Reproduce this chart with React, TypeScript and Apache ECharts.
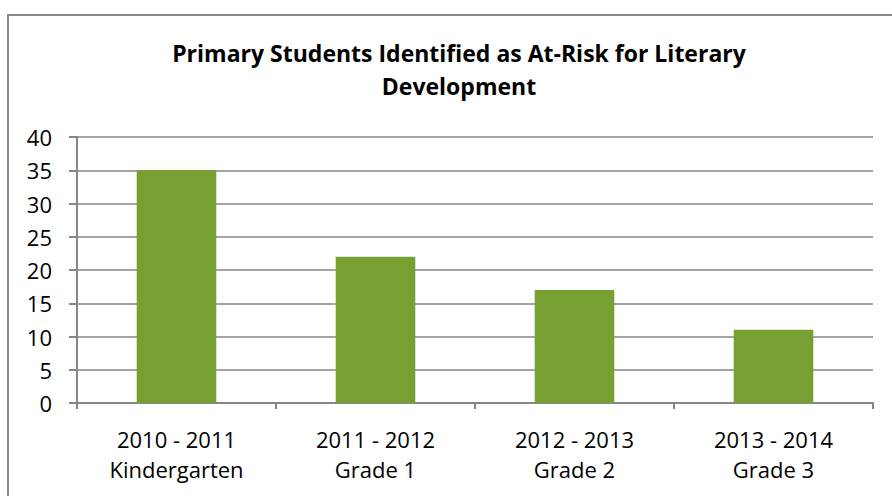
import React, { useEffect, useRef } from "react";
import * as echarts from "echarts";

const titleLines = ["Primary Students Identified as At-Risk for Literary", "Development"];
const yearLabels = ["2010 - 2011", "2011 - 2012", "2012 - 2013", "2013 - 2014"];
const gradeLabels = ["Kindergarten", "Grade 1", "Grade 2", "Grade 3"];
const studentCounts = [35, 22, 17, 11];
const yTicks = { min: 0, max: 40, interval: 5 };

const FONT = "'Open Sans', Lato, sans-serif";

export default function App() {
  const ref = useRef<HTMLDivElement>(null);
  useEffect(() => {
    if (!ref.current) return;
    const chart = echarts.init(ref.current, undefined, { renderer: "svg" });
    const categories = yearLabels.map((y, i) => `${y}\n${gradeLabels[i]}`);
    chart.setOption({
      animation: false,
      backgroundColor: "#ffffff",
      title: {
        text: titleLines.join("\n"),
        left: 454,
        top: 31,
        textAlign: "center",
        textStyle: {
          fontFamily: FONT,
          fontWeight: "bold",
          fontSize: 23,
          lineHeight: 33,
          color: "#000",
        },
      },
      graphic: [
        {
          type: "rect",
          shape: { x: 8, y: 15, width: 920, height: 600 },
          style: { fill: "none", stroke: "#878787", lineWidth: 2 },
          silent: true,
        },
      ],
      grid: { left: 77, right: 19, top: 137, bottom: 93 },
      xAxis: {
        type: "category",
        data: categories,
        axisLine: { show: true, lineStyle: { color: "#868686", width: 2 } },
        axisTick: { show: true, alignWithLabel: false, length: 6, lineStyle: { color: "#868686", width: 2 } },
        axisLabel: {
          fontFamily: FONT,
          fontSize: 22,
          lineHeight: 30,
          color: "#000",
          margin: 21,
          interval: 0,
        },
      },
      yAxis: {
        type: "value",
        min: yTicks.min,
        max: yTicks.max,
        interval: yTicks.interval,
        axisLine: { show: true, lineStyle: { color: "#868686", width: 2 } },
        axisTick: { show: true, length: 8, lineStyle: { color: "#868686", width: 2 } },
        splitLine: { show: true, lineStyle: { color: "#868686", width: 1.5 } },
        axisLabel: {
          fontFamily: FONT,
          fontSize: 22,
          color: "#000",
          margin: 25,
        },
      },
      series: [
        {
          type: "bar",
          data: studentCounts,
          barWidth: "40%",
          itemStyle: { color: "#77A033" },
        },
      ],
    });
    return () => chart.dispose();
  }, []);
  return (
    <div
      ref={ref}
      style={{ position: "fixed", left: 0, top: 0, width: 892, height: 496 }}
    />
  );
}
